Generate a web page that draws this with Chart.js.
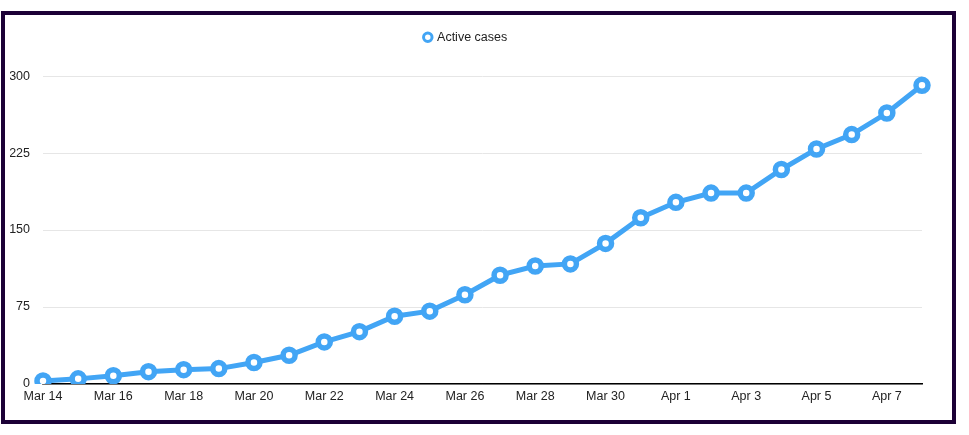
<!DOCTYPE html>
<html>
<head>
<meta charset="utf-8">
<script src="https://cdn.jsdelivr.net/npm/chart.js@4"></script>
<style>
  html, body { margin: 0; padding: 0; background: #fff; }
  #frame {
    position: absolute; left: 1px; top: 11px;
    width: 947px; height: 405px;
    border: 4px solid #1c0036;
    background: #fff;
  }
  #frame canvas { display: block; }
</style>
</head>
<body>
<div id="frame"><canvas id="cases"></canvas></div>
<script>
  // dates on the x axis
  const days = ['Mar 14', 'Mar 15', 'Mar 16', 'Mar 17', 'Mar 18', 'Mar 19', 'Mar 20', 'Mar 21',
    'Mar 22', 'Mar 23', 'Mar 24', 'Mar 25', 'Mar 26', 'Mar 27', 'Mar 28', 'Mar 29', 'Mar 30',
    'Mar 31', 'Apr 1', 'Apr 2', 'Apr 3', 'Apr 4', 'Apr 5', 'Apr 6', 'Apr 7', 'Apr 8']
  const activeCases = [3, 5, 8, 12, 14, 15, 21, 28, 41, 51, 66, 71, 87, 106, 115, 117, 137,
    162, 177, 186, 186, 209, 229, 243, 264, 291]
  const yTicks = [0, 75, 150, 225, 300]

  const blue = '#42a5f5'
  const font = { family: 'Helvetica, Arial, "Liberation Sans", sans-serif', size: 12.5 }

  const ctx = document.querySelector('#cases')

  new Chart(ctx, {
    type: 'line',
    data: {
      labels: days,
      datasets: [{
        label: 'Active cases',
        data: activeCases,
        borderColor: blue,
        backgroundColor: '#fff',
        borderWidth: 5,
        pointRadius: 6,
        pointBorderWidth: 5.5,
        pointBackgroundColor: '#fff',
        pointBorderColor: blue,
        tension: 0
      }]
    },
    options: {
      responsive: true,
      maintainAspectRatio: false,
      animation: false,
      layout: { padding: { left: 5, right: 30, top: 6, bottom: 17 } },
      plugins: {
        tooltip: { enabled: false },
        legend: {
          labels: {
            usePointStyle: true,
            boxHeight: 6,
            boxWidth: 6,
            color: '#222',
            font: font,
            generateLabels: function (chart) {
              const items = Chart.defaults.plugins.legend.labels.generateLabels(chart)
              items.forEach(it => { it.lineWidth = 3 })
              return items
            }
          }
        }
      },
      scales: {
        x: {
          grid: { display: false, drawTicks: false },
          border: { display: true, color: '#000', width: 1.5 },
          afterFit: function (axis) { axis.height = 19 },
          ticks: {
            autoSkip: false,
            maxRotation: 0,
            padding: 5,
            color: '#222',
            font: font,
            callback: function (v, i) { return i % 2 === 0 ? days[i] : '' }
          }
        },
        y: {
          min: 0,
          max: 322,
          afterBuildTicks: function (axis) {
            axis.ticks = yTicks.map(v => ({ value: v }))
          },
          afterFit: function (axis) { axis.width = 33 },
          grid: { color: '#e6e6e6', lineWidth: 1, drawTicks: false },
          border: { display: false },
          ticks: { padding: 13, color: '#222', font: font }
        }
      }
    }
  })
</script>
</body>
</html>
